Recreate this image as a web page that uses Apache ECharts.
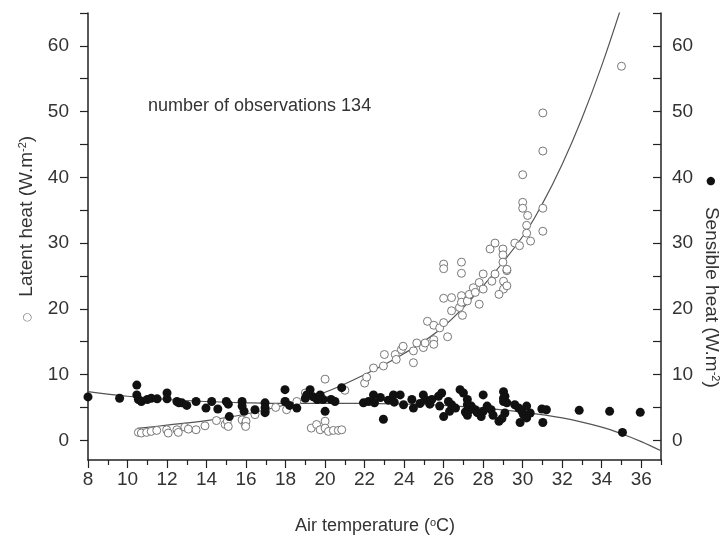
<!DOCTYPE html>
<html>
<head>
<meta charset="utf-8">
<script src="https://cdn.jsdelivr.net/npm/echarts@6/dist/echarts.min.js"></script>
<style>
html,body{margin:0;padding:0;background:#fff;}
#chart{width:723px;height:545px;}
</style>
</head>
<body>
<div id="chart"></div>
<script>
// Latent heat observations (open circles): air temperature (°C), latent heat (W.m-2)
const latentT = [10.55,10.7,10.97,11.2,11.48,11.98,12.06,12.5,12.57,12.9,13.08,13.47,13.92,14.5,14.94,15.05,15.1,15.8,15.95,16.0,15.98,16.45,17.0,17.5,18.05,18.0,18.57,19.0,19.3,19.3,19.57,19.75,20.0,20.0,20.17,20.42,20.67,20.84,20.0,21.0,22.0,22.1,22.45,22.95,23.0,23.55,23.6,23.86,23.95,24.47,24.47,24.64,24.97,25.06,25.5,25.5,25.18,25.5,25.8,26.0,26.2,26.0,26.4,26.4,26.8,26.0,26.0,26.9,26.9,26.9,26.9,26.95,27.2,27.3,27.5,27.6,27.8,27.8,28.0,28.0,28.35,28.6,29.0,28.44,28.6,29.03,29.2,29.03,28.8,29.2,31.02,31.02,30.0,30.0,30.0,31.02,30.25,30.2,30.2,31.02,30.4,29.6,29.84,29.0,29.0,29.2,35.0];
const latentV = [1.2,1.1,1.2,1.35,1.5,1.6,1.1,1.6,1.2,2.0,1.7,1.6,2.2,3.0,2.4,2.9,2.1,3.1,2.4,2.9,2.1,3.9,4.6,5.0,4.65,5.9,5.9,7.2,6.8,1.85,2.4,1.6,2.9,1.85,1.35,1.5,1.5,1.6,9.3,7.6,8.7,9.6,11.0,11.3,13.05,13.05,12.3,13.8,14.3,11.8,13.6,14.8,14.1,14.8,15.3,14.6,18.1,17.5,17.1,17.9,15.75,21.6,21.7,19.7,20.2,26.8,26.1,27.1,25.4,22.0,21.0,19.0,21.2,22.2,23.2,22.5,20.7,24.0,23.0,25.3,29.1,30.0,29.1,24.2,25.3,24.2,25.8,23.0,22.2,23.5,49.8,44.0,40.4,36.2,35.3,35.3,34.2,32.7,31.5,31.8,30.3,30.0,29.6,28.2,27.1,26.0,56.9];

// Sensible heat observations (filled circles)
const sensibleT = [8.0,9.6,10.47,10.47,10.55,10.7,11.0,11.2,11.5,12.0,12.0,12.5,12.6,12.75,13.0,13.47,13.97,14.26,14.57,15.0,15.1,15.15,15.8,15.8,15.9,16.45,16.96,16.96,16.96,17.97,17.97,18.2,18.57,19.0,19.07,19.24,19.4,19.6,19.75,19.9,20.0,20.3,20.5,20.84,21.94,22.2,22.45,22.5,22.95,22.8,23.2,23.46,23.5,23.8,23.97,24.39,24.47,24.8,24.97,25.06,25.3,25.4,25.74,25.9,25.8,26.0,26.24,26.3,26.4,26.6,26.83,27.0,27.1,27.2,27.2,27.3,27.2,27.4,27.6,27.7,27.9,28.0,28.0,28.2,28.4,28.5,28.8,29.03,29.1,29.03,29.03,29.2,29.1,28.95,29.6,29.8,29.96,30.04,30.2,30.2,30.38,29.87,30.97,31.2,31.02,32.86,34.4,35.05,35.95];
const sensibleV = [6.6,6.4,8.4,6.9,6.2,5.9,6.2,6.4,6.3,7.2,6.3,5.9,5.7,5.7,5.3,5.9,4.9,5.9,4.75,5.9,5.5,3.6,5.9,5.2,4.4,4.65,5.7,4.95,4.2,7.7,5.9,5.3,4.9,6.4,6.9,7.7,6.6,6.2,6.9,6.2,4.4,6.2,5.9,8.0,5.7,5.9,6.9,5.7,3.2,6.5,6.1,6.9,5.8,6.9,5.4,6.2,4.9,5.6,6.9,6.2,5.5,6.2,6.7,7.2,5.2,3.6,5.9,4.4,5.4,4.9,7.7,7.2,4.3,6.2,5.4,4.6,3.8,5.2,4.65,4.2,3.6,6.9,4.4,5.2,4.65,3.8,2.9,7.4,6.7,5.9,6.4,5.7,4.15,3.3,5.4,4.9,4.4,3.9,5.2,3.4,4.15,2.7,4.75,4.65,2.7,4.55,4.4,1.2,4.25];

// Fitted curves
const latentFitT = [10.5,12,14,16,18,20,22,24,26,28,30,31,32,33,34,35];
const latentFitV = [1.8,2.3,3.0,4.0,5.4,7.3,10.0,13.2,17.3,23.5,31.0,36.0,42.0,49.0,57.0,66.0];
const sensibleFitT = [8,10,12,14,16,18,20,22,24,26,28,30,32,34,35,36,37];
const sensibleFitV = [7.4,6.7,6.2,5.9,5.7,5.6,5.6,5.6,5.5,5.3,4.9,4.3,3.4,2.0,1.0,-0.2,-1.6];

// Axis ticks and labels
const xLabels = [8,10,12,14,16,18,20,22,24,26,28,30,32,34,36];
const xMinorTicks = [9,11,13,15,17,19,21,23,25,27,29,31,33,35,37];
const yLabels = [0,10,20,30,40,50,60];
const yTicks = [0,5,10,15,20,25,30,35,40,45,50,55,60,65];

const zip = (a, b) => a.map((v, i) => [v, b[i]]);
const FONT = '"Liberation Sans", Arial, sans-serif';
const TXT = '#333';
const AX = '#222';

const chart = echarts.init(document.getElementById('chart'), null, {renderer: 'canvas'});

const yBase = (pos) => ({
  type: 'value', min: -3, max: 65, position: pos,
  axisLine: {show: true, onZero: false, lineStyle: {color: AX, width: 1.5}},
  axisTick: {show: true, customValues: yTicks, length: 8, inside: pos === 'right', lineStyle: {color: AX, width: 1.2}},
  axisLabel: {customValues: yLabels, fontSize: 19, fontFamily: FONT, color: TXT, margin: pos === 'left' ? 19 : 11},
  splitLine: {show: false}
});

chart.setOption({
  animation: false,
  backgroundColor: '#fff',
  grid: {left: 88, right: 62, top: 13, bottom: 85, outerBoundsMode: 'none'},
  xAxis: [
    {
      type: 'value', min: 8, max: 37, position: 'bottom',
      axisLine: {show: true, onZero: false, lineStyle: {color: AX, width: 1.5}},
      axisTick: {show: true, customValues: xLabels, length: 8, lineStyle: {color: AX, width: 1.2}},
      axisLabel: {customValues: xLabels, fontSize: 19, fontFamily: FONT, color: TXT, margin: 10},
      splitLine: {show: false}
    },
    {
      type: 'value', min: 8, max: 37, position: 'bottom',
      axisLine: {show: false, onZero: false},
      axisTick: {show: true, customValues: xMinorTicks, length: 5, lineStyle: {color: AX, width: 1.2}},
      axisLabel: {show: false},
      splitLine: {show: false}
    }
  ],
  yAxis: [yBase('left'), yBase('right')],
  series: [
    {
      type: 'line', name: 'latent fit', xAxisIndex: 0, yAxisIndex: 0,
      data: zip(latentFitT, latentFitV), smooth: 0.4, showSymbol: false, clip: true,
      lineStyle: {color: '#555', width: 1.2}, z: 1
    },
    {
      type: 'line', name: 'sensible fit', xAxisIndex: 0, yAxisIndex: 1,
      data: zip(sensibleFitT, sensibleFitV), smooth: 0.4, showSymbol: false, clip: true,
      lineStyle: {color: '#555', width: 1.2}, z: 1
    },
    {
      type: 'scatter', name: 'Latent heat', xAxisIndex: 0, yAxisIndex: 0,
      data: zip(latentT, latentV), symbol: 'circle', symbolSize: 8,
      itemStyle: {color: '#fff', borderColor: '#777', borderWidth: 1, opacity: 1}, z: 2
    },
    {
      type: 'scatter', name: 'Sensible heat', xAxisIndex: 0, yAxisIndex: 1,
      data: zip(sensibleT, sensibleV), symbol: 'circle', symbolSize: 9,
      itemStyle: {color: '#111', opacity: 1}, z: 3
    }
  ],
  graphic: [
    {
      type: 'text', left: 148, top: 97,
      style: {text: 'number of observations 134', fontSize: 18, fontFamily: FONT, fill: TXT}
    },
    {
      type: 'text', x: 375, y: 526,
      style: {
        text: 'Air temperature ({sup|o}C)', fontSize: 18, fontFamily: FONT, fill: TXT,
        align: 'center', verticalAlign: 'middle',
        rich: {sup: {fontSize: 11, fontFamily: FONT, fill: TXT, verticalAlign: 'top'}}
      }
    },
    {
      type: 'text', x: 27, y: 229, rotation: Math.PI / 2,
      style: {
        text: '{sym|○}   Latent heat (W.m{sup|-2})', fontSize: 19, fontFamily: FONT, fill: TXT,
        align: 'center', verticalAlign: 'middle',
        rich: {
          sup: {fontSize: 11, fontFamily: FONT, fill: TXT, verticalAlign: 'top'},
          sym: {fontSize: 11, fontFamily: '"DejaVu Sans"', fill: '#777'}
        }
      }
    },
    {
      type: 'text', x: 711, y: 282, rotation: -Math.PI / 2,
      style: {
        text: '{sym|●}    Sensible heat (W.m{sup|-2})', fontSize: 19, fontFamily: FONT, fill: TXT,
        align: 'center', verticalAlign: 'middle',
        rich: {
          sup: {fontSize: 11, fontFamily: FONT, fill: TXT, verticalAlign: 'top'},
          sym: {fontSize: 11, fontFamily: '"DejaVu Sans"', fill: '#111'}
        }
      }
    }
  ]
});
</script>
</body>
</html>
